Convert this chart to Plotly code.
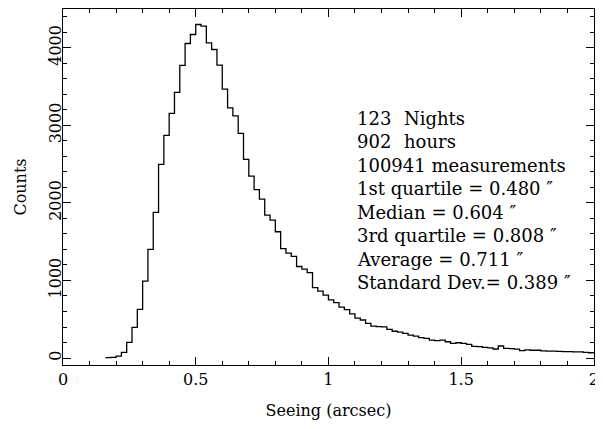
import plotly.graph_objects as go

# Histogram of seeing values: bin left edges (arcsec), bin width 0.02
bin_width = 0.02
bin_start = 0.16
counts = [
    5, 8, 25, 73, 202, 396, 627, 992, 1400, 1877,          # 0.16 - 0.34
    2496, 2870, 3153, 3424, 3772, 4055, 4171, 4300, 4278, 4063,  # 0.36 - 0.54
    3978, 3776, 3466, 3226, 3122, 2896, 2561, 2345, 2170, 2049,  # 0.56 - 0.74
    1843, 1778, 1628, 1410, 1352, 1310, 1180, 1145, 1100, 908,   # 0.76 - 0.94
    863, 812, 750, 713, 657, 623, 570, 515, 490, 447,            # 0.96 - 1.14
    410, 404, 402, 370, 345, 335, 318, 296, 283, 262,            # 1.16 - 1.34
    254, 232, 223, 232, 210, 189, 197, 189, 176, 150,            # 1.36 - 1.54
    146, 138, 130, 116, 155, 125, 120, 115, 95, 105,             # 1.56 - 1.74
    100, 100, 92, 90, 88, 85, 82, 82, 80, 78,                    # 1.76 - 1.94
    72, 68,                                                      # 1.96 - 1.98
]

x_tick_vals = [0, 0.5, 1, 1.5, 2]
x_tick_text = ["0", "0.5", "1", "1.5", "2"]
y_tick_vals = [0, 1000, 2000, 3000, 4000]
y_tick_text = ["0", "1000", "2000", "3000", "4000"]

info_numbers = ["123", "902"]
info_units = ["Nights", "hours"]
stat_lines = [
    "100941 measurements",
    "1st quartile = 0.480 \u2033",
    "Median = 0.604 \u2033",
    "3rd quartile = 0.808 \u2033",
    "Average = 0.711 \u2033",
    "Standard Dev.= 0.389 \u2033",
]

edges = [round(bin_start + i * bin_width, 4) for i in range(len(counts) + 1)]
step_x = edges
step_y = counts + [counts[-1]]

FONT = "DejaVu Serif"
TXT = 18

fig = go.Figure()
fig.add_trace(go.Scatter(
    x=step_x, y=step_y, mode="lines",
    line=dict(shape="hv", color="black", width=1.3),
    showlegend=False, hoverinfo="skip",
))

# The page body has an 8 px default margin, so the figure is offset by it.
OFF = 8
W, H = 603 - OFF, 429 - OFF
# desired plot area in page pixels: x 63..594, y 8..365
ML, MR = 63 - OFF, 603 - 594 + 0
MT, MB = 8 - OFF + 1, 429 - 365
PW = W - ML - MR
PH = H - MT - MB

def px_to_paper(px, py):
    fx, fy = px - OFF, py - OFF
    return (fx - ML) / PW, (H - MB - fy) / PH

annotations = []
line_y = [118, 141.5, 165, 188.5, 212, 235.5, 259, 282.5]
for i, (num, unit) in enumerate(zip(info_numbers, info_units)):
    xp, yp = px_to_paper(355, line_y[i])
    annotations.append(dict(x=xp, y=yp, xref="paper", yref="paper", text=num,
                            showarrow=False, xanchor="left", yanchor="middle",
                            font=dict(family=FONT, size=TXT, color="black")))
    xp, yp = px_to_paper(402, line_y[i])
    annotations.append(dict(x=xp, y=yp, xref="paper", yref="paper", text=unit,
                            showarrow=False, xanchor="left", yanchor="middle",
                            font=dict(family=FONT, size=TXT, color="black")))
for j, txt in enumerate(stat_lines):
    xp, yp = px_to_paper(355, line_y[j + 2])
    annotations.append(dict(x=xp, y=yp, xref="paper", yref="paper", text=txt,
                            showarrow=False, xanchor="left", yanchor="middle",
                            font=dict(family=FONT, size=TXT, color="black")))

axis_common = dict(
    showline=True, linecolor="black", linewidth=1, mirror="ticks",
    ticks="inside", ticklen=8, tickwidth=1, tickcolor="black",
    showgrid=False, zeroline=False, automargin=False,
    tickfont=dict(family=FONT, size=16, color="black"),
)

fig.update_layout(
    width=W, height=H,
    margin=dict(l=ML, r=MR, t=MT, b=MB, autoexpand=False),
    paper_bgcolor="white", plot_bgcolor="white",
    annotations=annotations,
    xaxis=dict(
        range=[0, 2.0005],
        tickvals=x_tick_vals, ticktext=x_tick_text,
        minor=dict(ticks="inside", ticklen=4, tickwidth=1, tickcolor="black", dtick=0.1, tick0=0, showgrid=False),
        title=dict(text="Seeing (arcsec)", font=dict(family=FONT, size=16, color="black"), standoff=16),
        ticklabelstandoff=0,
        **axis_common,
    ),
    yaxis=dict(
        range=[-90, 4500],
        tickvals=y_tick_vals, ticktext=y_tick_text,
        tickangle=-90,
        minor=dict(ticks="inside", ticklen=4, tickwidth=1, tickcolor="black", dtick=200, tick0=0, showgrid=False),
        title=dict(text="Counts", font=dict(family=FONT, size=16, color="black"), standoff=14),
        ticklabelstandoff=-5,
        **axis_common,
    ),
)

fig.write_html("out.html")
